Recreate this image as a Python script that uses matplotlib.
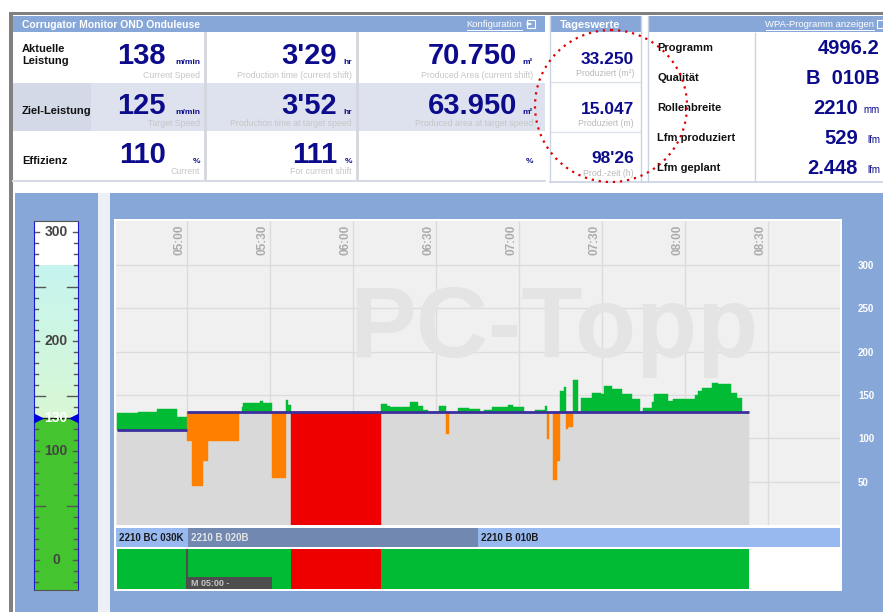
import numpy as np
import matplotlib.pyplot as plt
from matplotlib.patches import Rectangle, Ellipse
from matplotlib.colors import LinearSegmentedColormap

plt.rcParams['font.family'] = ['Liberation Sans', 'DejaVu Sans']

# ---------------- KPI table ----------------
row_labels = ["Aktuelle\nLeistung", "Ziel-Leistung", "Effizienz"]
speed_values = ["138", "125", "110"]
speed_units = ["m/min", "m/min", "%"]
speed_subs = ["Current Speed", "Target Speed", "Current"]
time_values = ["3'29", "3'52", "111"]
time_units = ["hr", "hr", "%"]
time_subs = ["Production time (current shift)", "Production time at target speed", "For current shift"]
area_values = ["70.750", "63.950", ""]
area_units = ["m²", "m²", "%"]
area_subs = ["Produced Area (current shift)", "Produced area at target speed", ""]

day_values = ["33.250", "15.047", "98'26"]
day_subs = ["Produziert (m²)", "Produziert (m)", "Prod.-zeit (h)"]

info_labels = ["Programm", "Qualität", "Rollenbreite", "Lfm produziert", "Lfm geplant"]
info_values = ["4996.2", "B  010B", "2210", "529", "2.448"]
info_units = ["", "", "mm", "lfm", "lfm"]

# ---------------- speed history (minutes after midnight) ----------------
seg_edges = [274.5, 282.3, 289.2, 296.4, 300.0, 301.8, 305.8, 307.6, 318.8, 319.9,
             320.2, 326.4, 327.5, 330.7, 335.8, 336.5, 337.6, 370.1, 372.3, 373.4,
             380.6, 383.5, 385.3, 387.1, 391.1, 393.6, 394.7, 397.9, 401.9, 405.9,
             407.3, 410.2, 413.8, 416.0, 417.8, 421.8, 425.8, 429.4, 430.1, 430.8,
             432.3, 433.7, 434.8, 436.2, 437.0, 437.7, 439.5, 441.3, 442.4, 446.4,
             449.6, 450.7, 453.6, 457.2, 460.8, 463.7, 464.8, 468.0, 468.8, 473.8,
             475.6, 483.6, 484.6, 486.1, 489.7, 491.9, 496.6, 498.7, 500.6, 503.1]
seg_speed = [129, 131, 134, 125, 97, 45, 74, 97, 130, 136,
             141, 143, 141, 54, 144, 139, 0, 140, 137, 136,
             142, 137, 133, 131, 137, 105, 130, 135, 134, 130,
             133, 136, 136, 138, 136, 130, 133, 137, 99, 130,
             52, 74, 155, 159, 111, 113, 167, 130, 147, 152,
             151, 160, 157, 151, 146, 130, 135, 142, 151, 143,
             145, 150, 155, 158, 164, 163, 152, 147, 130]
target_change = 300.0   # 05:00
target_before = 110
target_after = 130

time_ticks = ["05:00", "05:30", "06:00", "06:30", "07:00", "07:30", "08:00", "08:30"]
speed_ticks = [50, 100, 150, 200, 250, 300]

product_names = ["2210 BC 030K", "2210 B 020B", "2210 B 010B"]
product_start = [274.3, 300.3, 405.2]
product_end = [300.3, 405.2, 536.0]
product_active = [False, True, False]

status_start = [274.5, 337.6, 370.1]
status_end = [337.6, 370.1, 503.1]
status_state = ["run", "stop", "run"]
shift_label = "M 05:00 -"
shift_start, shift_end = 300.0, 330.7

gauge_value = 130
gauge_labels = [0, 100, 200, 300]

# ---------------- colours ----------------
W, H = 883, 612
NAVY = '#0b0b8c'
BLUE = '#87a7d8'
GREEN = '#00bb33'
ORANGE = '#ff7f00'
RED = '#ee0000'
GRAY = '#d9d9d9'

fig = plt.figure(figsize=(W / 100, H / 100), dpi=100)
bg = fig.add_axes([0, 0, 1, 1])
bg.set_xlim(0, W)
bg.set_ylim(H, 0)
bg.axis('off')


def rect(x0, y0, x1, y1, color, **kw):
    bg.add_patch(Rectangle((x0, y0), x1 - x0, y1 - y0, facecolor=color, edgecolor='none', **kw))


def box(x0, y0, x1, y1):
    return [x0 / W, 1 - y1 / H, (x1 - x0) / W, (y1 - y0) / H]


# frame + headers
rect(9, 12, W, 15, '#808080')
rect(9, 12, 13, H, '#808080')
rect(13, 16, 545, 32, BLUE)
rect(551, 16, 641, 32, BLUE)
rect(648, 16, W, 32, BLUE)
bg.text(22, 24.5, 'Corrugator Monitor OND Onduleuse', color='white', fontsize=7.5,
        fontweight='bold', va='center')
bg.text(522, 24.5, 'Konfiguration', color='white', fontsize=6.8, va='center', ha='right')
bg.plot([467, 522], [29.5, 29.5], color='white', lw=0.7)
bg.add_patch(Rectangle((527, 20), 8, 8, fill=False, edgecolor='white', lw=0.8))
bg.annotate('', xy=(534, 24), xytext=(528, 24),
            arrowprops=dict(arrowstyle='-|>', color='white', lw=0.8, mutation_scale=5))
bg.text(560, 24.5, 'Tageswerte', color='white', fontsize=8, fontweight='bold', va='center')
bg.text(874, 24.5, 'WPA-Programm anzeigen', color='white', fontsize=6.8, va='center', ha='right')
bg.plot([766, 874], [29.5, 29.5], color='white', lw=0.7)
bg.add_patch(Rectangle((877, 20), 8, 8, fill=False, edgecolor='white', lw=0.8))

# table body
rect(13, 83, 91, 131, '#d3d9e7')
rect(91, 83, 545, 131, '#dde2ee')
for x in (205, 357):
    bg.plot([x, x], [33, 180], color='#d4d6dc', lw=2)
bg.plot([13, 545], [181, 181], color='#d6dbe5', lw=1.5)
for x in (550, 641, 648):
    bg.plot([x, x], [16, 182], color='#c9d3e4', lw=1)
bg.plot([755, 755], [33, 181], color='#c9d3e4', lw=1)
for y in (82, 132):
    bg.plot([551, 640], [y, y], color='#dde1e8', lw=1)
bg.plot([550, W], [181.5, 181.5], color='#c9d3e4', lw=1.2)

label_y = [55, 111, 161]
num_base = [64, 114, 163]
sub_y = [75, 124, 172]
for i, lab in enumerate(row_labels):
    bg.text(22, label_y[i], lab, fontsize=8, fontweight='bold', va='center',
            color='#111111', linespacing=1.15)

columns = [(speed_values, speed_units, speed_subs, 166, 200),
           (time_values, time_units, time_subs, 337, 352),
           (area_values, area_units, area_subs, 517, 533)]
for vals, units, subs, xr, ur in columns:
    for i in range(3):
        bg.text(xr, num_base[i], vals[i], ha='right', va='baseline', fontsize=21,
                fontweight='bold', color=NAVY)
        bg.text(ur, num_base[i], units[i], ha='right', va='baseline', fontsize=6,
                fontweight='bold', color=NAVY)
        bg.text(ur, sub_y[i], subs[i], ha='right', va='center', fontsize=6.3, color='#c6c6c6')

day_base = [64, 114, 163]
day_sub_y = [74, 124, 173]
for i in range(3):
    bg.text(634, day_base[i], day_values[i], ha='right', va='baseline', fontsize=12.5,
            fontweight='bold', color=NAVY)
    bg.text(634, day_sub_y[i], day_subs[i], ha='right', va='center', fontsize=6.3, color='#b8b8b8')

info_y = [48, 78, 108, 138, 168]
for i, lab in enumerate(info_labels):
    bg.text(657, info_y[i], lab, fontsize=8, fontweight='bold', va='center', color='#111111')
    xr = 858 if info_units[i] else 880
    bg.text(xr, info_y[i], info_values[i], ha='right', va='center', fontsize=14.5,
            fontweight='bold', color=NAVY)
    if info_units[i]:
        bg.text(880, info_y[i] + 2, info_units[i], ha='right', va='center', fontsize=7,
                color=NAVY)

bg.add_patch(Ellipse((611, 106), 152, 152, fill=False, edgecolor='#e00000',
                     linestyle=(0, (1, 2.2)), lw=1.6, zorder=10))

# bottom panels
rect(15, 193, 98, H, BLUE)
rect(98, 193, 110, H, '#edf0f5')
rect(110, 193, W, H, BLUE)
rect(114, 219, 842, 591, 'white')

# ---------------- main chart ----------------
X0, X1 = 274.3, 536.0
ax = fig.add_axes(box(116, 221, 840, 525))
ax.set_facecolor('#f0f0f0')
ax.set_xlim(X0, X1)
ax.set_ylim(0, 351)
for s in ax.spines.values():
    s.set_visible(False)

tick_min = [int(t[:2]) * 60 + int(t[3:]) for t in time_ticks]
ax.set_xticks([])
ax.set_yticks(speed_ticks)
ax.yaxis.tick_right()
ax.tick_params(axis='y', length=0, pad=13, labelcolor='white', labelsize=7)
for lab in ax.get_yticklabels():
    lab.set_fontweight('bold')
ax.grid(axis='y', color='#dcdcdc', lw=1)
ax.set_axisbelow(True)
for t, lab in zip(tick_min, time_ticks):
    ax.axvline(t, color='#dcdcdc', lw=1, zorder=0.6)
    ax.text(t - 0.6, 347, lab, rotation=90, ha='right', va='top', fontsize=8.5,
            fontweight='bold', color='#acacac')

ax.text(432.5, 194, 'PC-Topp', fontsize=72, fontweight='bold', color='#e4e4e4',
        ha='center', va='baseline', zorder=1)

edges = np.array(seg_edges)
left = edges[:-1]
width = np.diff(edges)
spd = np.array(seg_speed, dtype=float)
tgt = np.where(left < target_change, target_before, target_after).astype(float)

kw = dict(align='edge', linewidth=0.3, zorder=2)
ax.bar(left, tgt, width, color=GRAY, edgecolor=GRAY, **kw)
up = spd > tgt
ax.bar(left[up], (spd - tgt)[up], width[up], bottom=tgt[up], color=GREEN, edgecolor=GREEN, **kw)
low = (spd < tgt) & (spd > 0)
ax.bar(left[low], (tgt - spd)[low], width[low], bottom=spd[low], color=ORANGE, edgecolor=ORANGE, **kw)
stop = spd == 0
ax.bar(left[stop], tgt[stop], width[stop], color=RED, edgecolor=RED, **kw)
ax.hlines([target_before, target_after], [edges[0], target_change], [target_change, edges[-1]],
          color='#3b2f9e', lw=2, zorder=4)

# product band
ax_p = fig.add_axes(box(116, 528, 840, 547))
ax_p.set_xlim(X0, X1)
ax_p.set_ylim(0, 1)
ax_p.axis('off')
for name, s, e, act in zip(product_names, product_start, product_end, product_active):
    ax_p.barh(0.5, e - s, left=s, height=1, color='#7189b1' if act else '#97b9f0')
    ax_p.text(s + 1.0, 0.47, name, va='center', fontsize=7, fontweight='bold',
              color='#e4e4e4' if act else '#1a1a1a')

# status band
ax_s = fig.add_axes(box(116, 549, 840, 589))
ax_s.set_xlim(X0, X1)
ax_s.set_ylim(0, 1)
ax_s.axis('off')
for s, e, st in zip(status_start, status_end, status_state):
    ax_s.barh(0.5, e - s, left=s, height=1, color=GREEN if st == 'run' else RED)
ax_s.barh(0.15, shift_end - shift_start, left=shift_start, height=0.28, color='#4d4d4d')
ax_s.vlines(shift_start, 0, 1, color='#4d4d4d', lw=1.5)
ax_s.text(shift_start + 1.5, 0.14, shift_label, va='center', fontsize=6.5,
          fontweight='bold', color='#c8c8c8')

# ---------------- gauge ----------------
G0, G1 = -27, 310
ax_g = fig.add_axes(box(34, 221, 78, 590))
ax_g.set_xlim(0, 1)
ax_g.set_ylim(G0, G1)
ax_g.set_xticks([])
ax_g.set_yticks([])
ax_g.set_facecolor('white')
ax_g.bar(0, gauge_value - G0, width=1, bottom=G0, align='edge', color='#44c42e', zorder=1)
grad = LinearSegmentedColormap.from_list('g', ['#d8f8d4', '#c6f4ef'])
ax_g.imshow(np.linspace(0, 1, 100).reshape(-1, 1), cmap=grad, origin='lower',
            extent=(0, 1, gauge_value, 269), aspect='auto', zorder=1)
for v in range(-20, 310, 10):
    if v % 100 == 50:
        ln = 0.24
    elif v % 100 == 0:
        ln = 0.12
    else:
        ln = 0.08
    ax_g.plot([0, ln], [v, v], color='#555555', lw=1, zorder=2)
    ax_g.plot([1 - ln, 1], [v, v], color='#555555', lw=1, zorder=2)
for v in gauge_labels:
    ax_g.text(0.5, v, str(v), ha='center', va='center', fontsize=10, fontweight='bold',
              color='#444444', zorder=3)
ax_g.axhline(gauge_value, color='#222222', lw=1, zorder=2)
ax_g.text(0.5, gauge_value, str(gauge_value), ha='center', va='center', fontsize=10,
          fontweight='bold', color='white', zorder=3)
ax_g.plot([0.07], [gauge_value], marker='>', ms=7, color='#0000dd', zorder=4)
ax_g.plot([0.93], [gauge_value], marker='<', ms=7, color='#0000dd', zorder=4)
for s in ax_g.spines.values():
    s.set_color('#555555')
ax_g.spines['left'].set_color('#1a1acc')
ax_g.spines['right'].set_color('#1a1acc')

fig.savefig('out.png', dpi=100)
